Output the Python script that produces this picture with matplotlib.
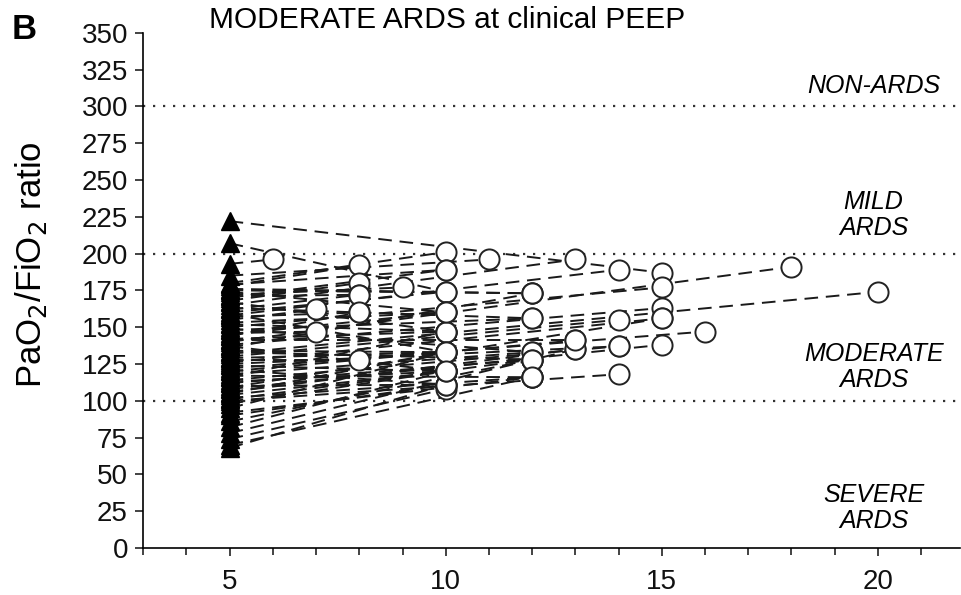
import matplotlib
matplotlib.use("Agg")
import matplotlib.pyplot as plt
from matplotlib.ticker import MultipleLocator

plt.rcParams['font.family'] = ['Liberation Sans', 'DejaVu Sans']

# PaO2/FiO2 at PEEP 5 (triangles) and at clinical PEEP (circles), one pair per patient
pf_low = [222, 207, 193, 185, 180, 178, 175, 172, 170, 168,
          165, 162, 160, 158, 155, 153, 150, 148, 146, 144,
          142, 140, 138, 136, 134, 132, 130, 128, 126, 124,
          122, 120, 118, 116, 114, 112, 110, 108, 106, 104,
          102, 100, 95, 90, 86, 82, 78, 74, 70, 68,
          179, 176, 174, 171, 167, 163, 159, 157, 152, 149,
          145, 141, 137, 133, 129, 125, 121, 117, 113, 109,
          105, 101, 98, 92]
peep_high = [15, 10, 6, 11, 10, 8, 12, 9, 10, 8,
             13, 8, 10, 14, 7, 10, 15, 12, 7, 8,
             10, 18, 15, 12, 10, 20, 14, 8, 15, 10,
             16, 13, 12, 10, 14, 12, 10, 15, 13, 10,
             12, 14, 10, 10, 12, 10, 13, 10, 12, 10,
             10, 12, 10, 8, 10, 12, 10, 8, 10, 12,
             10, 13, 10, 12, 10, 14, 10, 12, 10, 15,
             10, 12, 10, 12]
pf_high = [187, 174, 196, 196, 201, 192, 173, 177, 189, 180,
           196, 172, 174, 189, 162, 160, 177, 156, 147, 160,
           147, 191, 163, 173, 133, 174, 155, 128, 156, 120,
           147, 141, 133, 147, 137, 128, 111, 138, 135, 120,
           116, 118, 133, 111, 128, 120, 135, 108, 116, 111,
           189, 173, 160, 172, 147, 156, 133, 160, 147, 133,
           160, 141, 120, 128, 133, 137, 111, 116, 120, 156,
           133, 128, 120, 116]
peep_low = 5

fig = plt.figure(figsize=(9.61, 5.95), dpi=100)
ax = fig.add_axes([0.149, 0.079, 0.85, 0.866])

for y0, x1, y1 in zip(pf_low, peep_high, pf_high):
    ax.plot([peep_low, x1], [y0, y1], color='#1a1a1a', lw=1.4,
            linestyle=(0, (7, 4)), zorder=2)

ax.plot([peep_low] * len(pf_low), pf_low, linestyle='none', marker='^',
        ms=13, color='black', zorder=4)
ax.plot(peep_high, pf_high, linestyle='none', marker='o', ms=14.5,
        mfc='white', mec='#222222', mew=1.4, zorder=5)

for lvl in (100, 200, 300):
    ax.axhline(lvl, color='#333333', lw=1.6, linestyle=(0, (1, 3.5)), zorder=1)

ax.set_xlim(3, 21.9)
ax.set_ylim(0, 350)
ax.xaxis.set_major_locator(MultipleLocator(5))
ax.xaxis.set_minor_locator(MultipleLocator(1))
ax.yaxis.set_major_locator(MultipleLocator(25))
ax.spines['top'].set_visible(False)
ax.spines['right'].set_visible(False)
ax.spines['left'].set_linewidth(1.2)
ax.spines['bottom'].set_linewidth(1.2)
ax.tick_params(axis='both', which='major', length=6, width=1.2, labelsize=20,
               color='#222222', labelcolor='#111111')
ax.tick_params(axis='x', which='minor', length=5, width=1.2, color='#222222')
ax.tick_params(axis='x', which='major', pad=9)
ax.tick_params(axis='y', which='major', pad=5)

ax.set_ylabel('PaO$_2$/FiO$_2$ ratio', fontsize=25)
ax.yaxis.set_label_coords(-0.115, 0.55)

tx = 19.9
ax.text(tx, 314, 'NON-ARDS', fontsize=18, style='italic', ha='center', va='center')
ax.text(tx, 226, 'MILD\nARDS', fontsize=18, style='italic', ha='center', va='center',
        linespacing=1.1)
ax.text(tx, 123, 'MODERATE\nARDS', fontsize=18, style='italic', ha='center', va='center',
        linespacing=1.1)
ax.text(tx, 27, 'SEVERE\nARDS', fontsize=18, style='italic', ha='center', va='center',
        linespacing=1.1)

fig.text(0.218, 0.966, 'MODERATE ARDS at clinical PEEP', fontsize=21.5, va='center')
fig.text(0.012, 0.95, 'B', fontsize=25, fontweight='bold', va='center')

fig.savefig('out.png', dpi=100)
